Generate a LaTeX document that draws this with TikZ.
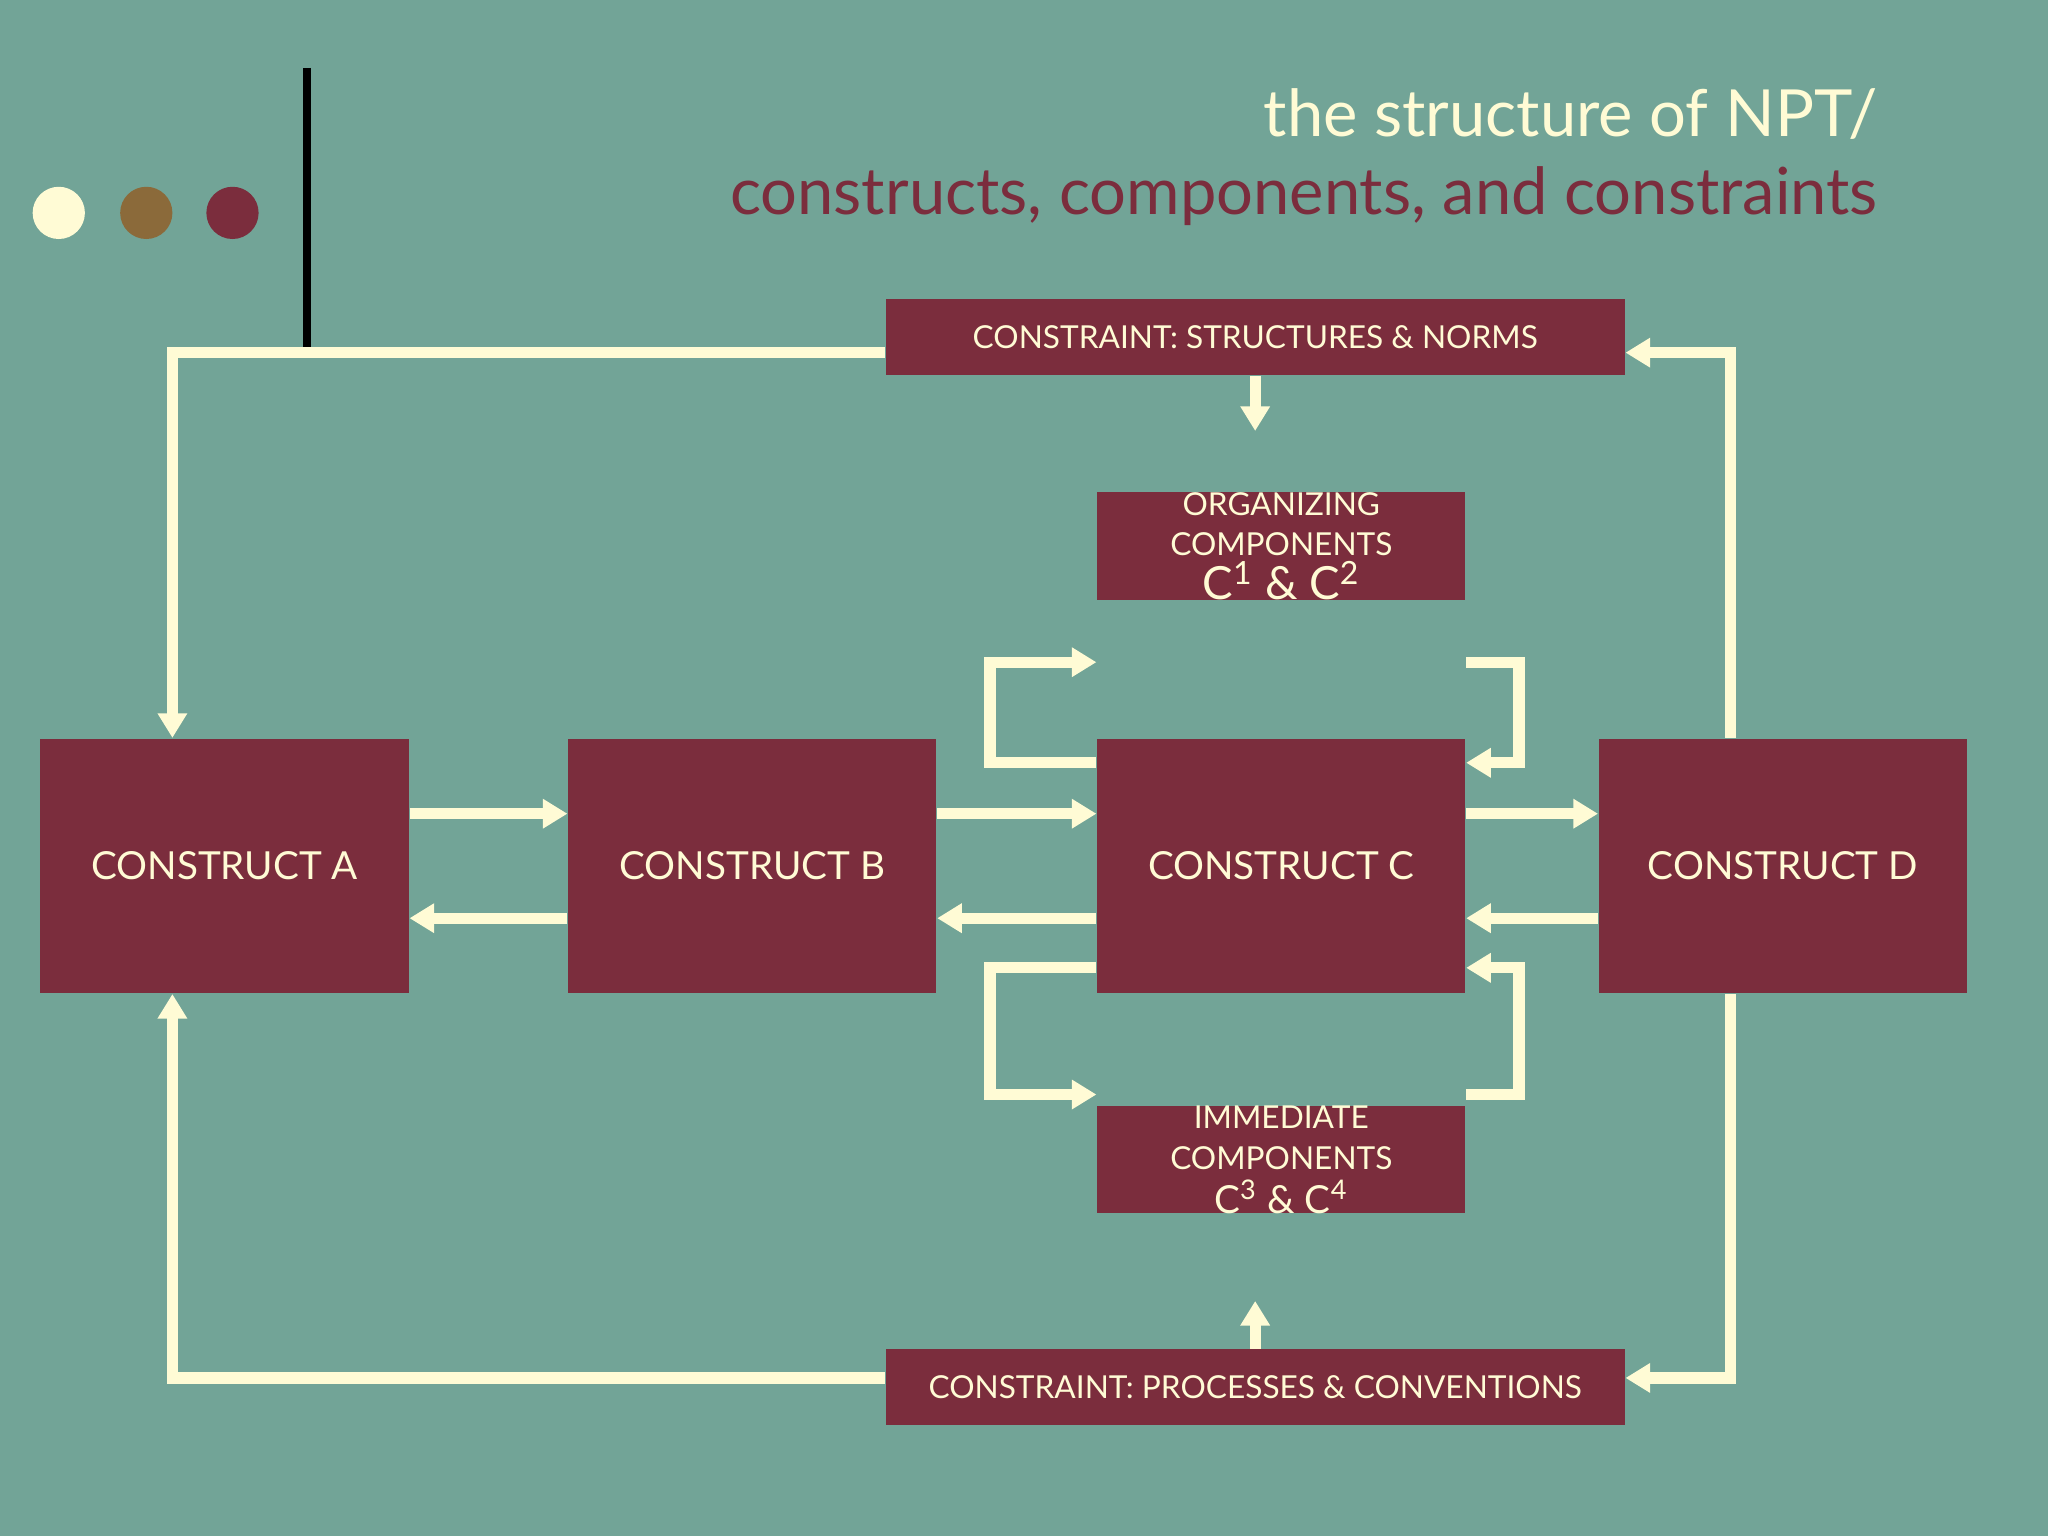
\documentclass[tikz,border=0pt]{standalone}
\usepackage{fontspec}
\setmainfont{Lato}
\usetikzlibrary{arrows.meta,calc}
\definecolor{teal}{RGB}{114,164,151}
\definecolor{cream}{RGB}{255,251,213}
\definecolor{maroon}{RGB}{123,45,61}
\definecolor{brownish}{RGB}{139,106,58}
\newlength{\px}
\setlength{\px}{0.01306cm}
\begin{document}
\begin{tikzpicture}[x=0.01306cm,y=-0.01306cm]
	\tikzset{box/.style = {fill=maroon, text=cream, minimum width=282\px, minimum height=195\px, inner sep=0pt, align=center, font=\fontsize{11}{13}\selectfont},
		bar/.style = {fill=maroon, text=cream, minimum width=566\px, minimum height=58\px, inner sep=0pt, font=\fontsize{9}{11}\selectfont},
		link/.style = {draw=cream, line width=3.2pt, -{Triangle[length=7pt,width=8pt]}}}

	\fill[teal] (0,0) rectangle (1568,1176);
	\fill[cream] (45,163) circle (20);
	\fill[brownish] (112,163) circle (20);
	\fill[maroon] (178,163) circle (20);
	\draw[line width=2.5pt] (235,52) -- (235,268);

	\node[anchor=east, text=cream, font=\fontsize{18.5}{22}\selectfont] (T1) at (1447,87) {the structure of NPT/};
	\node[anchor=east, text=maroon, font=\fontsize{18.5}{22}\selectfont] (T2) at (1447,150) {constructs, components, and constraints};

	\node[bar] (SN) at (961,258) {CONSTRAINT: STRUCTURES \& NORMS};
	\node[bar] (PC) at (961,1062) {CONSTRAINT: PROCESSES \& CONVENTIONS};

	\node[box, minimum height=0pt, font=\fontsize{9}{11.5}\selectfont] (ORGt) at (981,418) {ORGANIZING\\COMPONENTS\\[1pt]{\fontsize{13}{16}\selectfont C\textsuperscript{1} \& C\textsuperscript{2}}};
	\node[box, minimum height=0pt, font=\fontsize{9}{11.5}\selectfont] (IMMt) at (981,888) {IMMEDIATE\\COMPONENTS\\[1pt]{\fontsize{11}{14}\selectfont C\textsuperscript{3} \& C\textsuperscript{4}}};
	\node[box, fill=none] (ORG) at (981,428) {};
	\node[box, fill=none] (IMM) at (981,898) {};
	\begin{scope}[on background layer/.style={}]
	\end{scope}

	\node[box] (A) at (172,663) {CONSTRUCT A};
	\node[box] (B) at (576,663) {CONSTRUCT B};
	\node[box] (C) at (981,663) {CONSTRUCT C};
	\node[box] (D) at (1365,663) {CONSTRUCT D};

	% constraints
	\draw[link] (SN.west |- 0,270) -- (132,270) -- ($(A.north)+(-40,0)$);
	\draw[link] (SN.south -| 961,0) -- (ORG.north -| 961,0);
	\draw[link] ($(D.north)+(-40,0)$) -- (1325,270) -- (SN.east |- 0,270);
	\draw[link] (PC.west |- 0,1055) -- (132,1055) -- ($(A.south)+(-40,0)$);
	\draw[link] (PC.north -| 961,0) -- (IMM.south -| 961,0);
	\draw[link] ($(D.south)+(-40,0)$) -- (1325,1055) -- (PC.east |- 0,1055);

	% constructs
	\draw[link] (A.east |- 0,623) -- (B.west |- 0,623);
	\draw[link] (B.east |- 0,623) -- (C.west |- 0,623);
	\draw[link] (C.east |- 0,623) -- (D.west |- 0,623);
	\draw[link] (B.west |- 0,703) -- (A.east |- 0,703);
	\draw[link] (C.west |- 0,703) -- (B.east |- 0,703);
	\draw[link] (D.west |- 0,703) -- (C.east |- 0,703);

	% components
	\draw[link] (C.west |- 0,584) -- (758,584) -- (758,507) -- (ORG.west |- 0,507);
	\draw[link] (ORG.east |- 0,507) -- (1163,507) -- (1163,584) -- (C.east |- 0,584);
	\draw[link] (C.west |- 0,741) -- (758,741) -- (758,838) -- (IMM.west |- 0,838);
	\draw[link] (IMM.east |- 0,838) -- (1163,838) -- (1163,741) -- (C.east |- 0,741);
\end{tikzpicture}
\end{document}
